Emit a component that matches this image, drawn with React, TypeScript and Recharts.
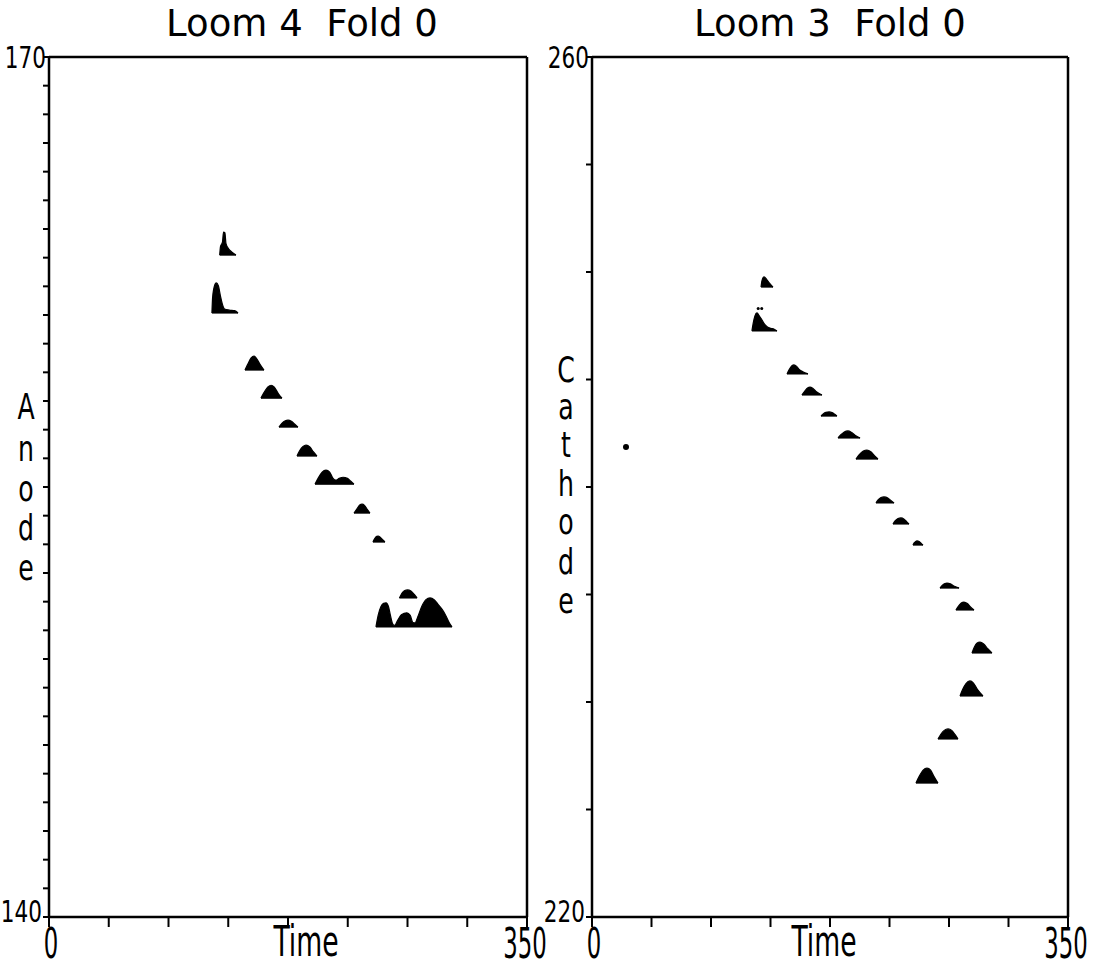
import React from 'react';
import { ComposedChart, Area, Scatter, XAxis, YAxis, ReferenceLine } from 'recharts';

const FONT = '"DejaVu Sans", "Liberation Sans", sans-serif';

// ---- text ----
const titles = ['Loom 4  Fold 0', 'Loom 3  Fold 0'];
const xLabel = 'Time';
const yLabels = ['Anode', 'Cathode'];

// ---- axes ----
const xTicks = [0, 43.75, 87.5, 131.25, 175, 218.75, 262.5, 306.25, 350];
const xTickLabels = ['0', '350'];
const anodeTicks = [140, 141, 142, 143, 144, 145, 146, 147, 148, 149, 150, 151, 152, 153, 154, 155, 156, 157, 158, 159, 160, 161, 162, 163, 164, 165, 166, 167, 168, 169, 170];
const anodeTickLabels = ['140', '170'];
const cathodeTicks = [220, 225, 230, 235, 240, 245, 250, 255, 260];
const cathodeTickLabels = ['220', '260'];

// ---- anode peaks (Loom 4): baseline and [time, height] profile ----
const anodeBases = [163.09, 161.07, 159.08, 158.1, 157.09, 156.08, 155.1, 154.09, 153.08, 150.12, 151.13];
const anodeProfiles: number[][][] = [
  [[125, 0], [125.6, 0.3], [127, 0.45], [127.8, 0.8], [128.8, 0.78], [129.6, 0.4], [131.5, 0.22], [134, 0.1], [136.9, 0]],
  [[119.3, 0], [119.8, 0.55], [121, 0.92], [122.5, 1.05], [124, 0.95], [125.5, 0.6], [127, 0.3], [128.5, 0.14], [132, 0.1], [136, 0.08], [138.4, 0]],
  [[143.5, 0], [145.5, 0.2], [148, 0.42], [150.1, 0.49], [152, 0.4], [154.5, 0.2], [157.4, 0]],
  [[155.2, 0], [157.5, 0.2], [160.5, 0.4], [162.6, 0.45], [165, 0.38], [168, 0.15], [170.6, 0]],
  [[168.4, 0], [170.5, 0.13], [173, 0.22], [175, 0.24], [177.5, 0.2], [180, 0.1], [182.3, 0]],
  [[181.6, 0], [183.5, 0.18], [186, 0.33], [188.2, 0.38], [191, 0.32], [193.5, 0.15], [196.2, 0]],
  [[194.8, 0], [197, 0.2], [200, 0.42], [202.8, 0.49], [205.5, 0.42], [208, 0.2], [210, 0.14], [212.5, 0.2], [215.3, 0.24], [218.5, 0.2], [221, 0.1], [223.3, 0]],
  [[223.3, 0], [225.5, 0.15], [227.5, 0.28], [229.2, 0.31], [231, 0.27], [233, 0.13], [235, 0]],
  [[237.2, 0], [238.5, 0.12], [240, 0.2], [241, 0.21], [242.5, 0.17], [244.5, 0.07], [246, 0]],
  [[239.4, 0], [241, 0.4], [243, 0.7], [245, 0.82], [246.8, 0.84], [248.5, 0.72], [250, 0.4], [251.5, 0.12], [253, 0.05], [255, 0.2], [258, 0.42], [262, 0.49], [264.5, 0.4], [266.5, 0.15], [268, 0.14], [270, 0.35], [273, 0.72], [276, 0.95], [279, 1.01], [282, 0.95], [285, 0.78], [288, 0.6], [290.5, 0.4], [293, 0.15], [295.1, 0]],
  [[256.6, 0], [258.5, 0.17], [260.5, 0.26], [262.5, 0.28], [265, 0.24], [267.5, 0.12], [269.5, 0]],
];

// ---- cathode peaks (Loom 3) ----
const cathodeBases = [249.3, 247.26, 245.26, 244.28, 243.3, 242.28, 241.3, 239.26, 238.28, 237.3, 235.3, 234.28, 232.28, 230.28, 228.28, 226.23];
const cathodeProfiles: number[][][] = [
  [[124.3, 0], [125, 0.3], [126.5, 0.47], [128.5, 0.35], [130.5, 0.18], [133.1, 0]],
  [[117.6, 0], [118.5, 0.35], [119.8, 0.7], [121.3, 0.84], [123, 0.7], [125, 0.5], [127, 0.3], [129, 0.18], [131.5, 0.12], [134, 0.08], [136, 0]],
  [[143.4, 0], [145, 0.2], [147, 0.38], [148.5, 0.42], [150.5, 0.35], [152.5, 0.2], [155, 0.1], [158.8, 0]],
  [[154.4, 0], [156.5, 0.18], [158.5, 0.33], [160.3, 0.37], [162.5, 0.3], [165, 0.15], [169.1, 0]],
  [[168.4, 0], [170, 0.1], [172, 0.17], [174.3, 0.19], [176.5, 0.16], [178.5, 0.08], [180.1, 0]],
  [[180.9, 0], [183, 0.15], [185.5, 0.28], [188.2, 0.33], [191, 0.25], [194, 0.1], [197.1, 0]],
  [[194.1, 0], [196.5, 0.2], [199.5, 0.37], [202.2, 0.42], [205, 0.34], [207.5, 0.17], [210.3, 0]],
  [[208.8, 0], [210.5, 0.15], [212.5, 0.25], [214.7, 0.28], [217.5, 0.23], [220, 0.1], [222.1, 0]],
  [[221.3, 0], [223, 0.15], [225, 0.25], [227.2, 0.28], [229.5, 0.22], [231.5, 0.1], [233.1, 0]],
  [[236, 0], [237, 0.11], [238, 0.17], [239, 0.19], [240.5, 0.16], [242, 0.08], [243.4, 0]],
  [[255.9, 0], [257.5, 0.12], [259.5, 0.21], [261, 0.23], [263.5, 0.2], [266.5, 0.08], [269.9, 0]],
  [[267.6, 0], [269.5, 0.18], [271.5, 0.33], [273.5, 0.37], [276, 0.3], [278.5, 0.13], [280.9, 0]],
  [[279.4, 0], [281, 0.25], [283, 0.45], [285.3, 0.51], [288, 0.42], [291, 0.2], [294.1, 0]],
  [[270.6, 0], [272.5, 0.3], [275, 0.58], [277.9, 0.7], [280.5, 0.6], [283.5, 0.3], [287.5, 0]],
  [[254.4, 0], [256.5, 0.22], [259, 0.4], [261.8, 0.47], [264.5, 0.4], [267, 0.2], [269.1, 0]],
  [[238.2, 0], [240.5, 0.3], [243.5, 0.6], [246.3, 0.7], [249, 0.6], [251.5, 0.3], [254.4, 0]],
];
const cathodeSpecks = [
  { t: 122.2, v: 248.3 },
  { t: 124.8, v: 248.3 },
];
const cathodeDot = [{ t: 25, v: 241.86 }];

const toSeries = (base: number, prof: number[][]) =>
  prof.map(([t, h]) => ({ t, r: [base, base + h] }));

const axisLine = { stroke: '#000', strokeWidth: 2.5 };
const tickLine = { stroke: '#000', strokeWidth: 2 };

const XTick = (props: any) => {
  const { x, y, payload } = props;
  const v = payload.value;
  const label = v === 0 ? xTickLabels[0] : v === 350 ? xTickLabels[1] : null;
  if (!label) return <g />;
  const dx = v === 0 ? 2 : -2;
  return (
    <g transform={`translate(${x + dx},${y + 31}) scale(0.53,1)`}>
      <text x={0} y={0} textAnchor="middle" fontSize={43} fontFamily={FONT} fill="#000">
        {label}
      </text>
    </g>
  );
};

const makeYTick = (ends: string[], lo: number, hi: number) => (props: any) => {
  const { x, y, payload } = props;
  const v = payload.value;
  const label = v === lo ? ends[0] : v === hi ? ends[1] : null;
  if (!label) return <g />;
  const dy = v === lo ? -6 : 0;
  const dx = v === lo ? -1 : 3;
  return (
    <g transform={`translate(${x + dx},${y + dy}) scale(0.72,1)`}>
      <text x={0} y={0} dy="0.36em" textAnchor="end" fontSize={30} fontFamily={FONT} fill="#000">
        {label}
      </text>
    </g>
  );
};

const Dot = (r: number) => (p: any) => <circle cx={p.cx} cy={p.cy} r={r} fill="#000" />;

const peakArea = (base: number, prof: number[][], i: number) => (
  <Area
    key={i}
    data={toSeries(base, prof)}
    dataKey="r"
    type="monotone"
    stroke="#000"
    strokeWidth={1.2}
    fill="#000"
    fillOpacity={1}
    dot={false}
    activeDot={false}
    isAnimationActive={false}
  />
);

export default function App() {
  const letterStyle = { whiteSpace: 'pre' as const };
  return (
    <div style={{ position: 'absolute', left: 0, top: 0, width: 1102, height: 968, background: '#fff' }}>
      <div style={{ position: 'absolute', left: 0, top: 0 }}>
        <ComposedChart width={560} height={968} margin={{ top: 57, right: 33, bottom: 0, left: 0 }}>
          <XAxis type="number" dataKey="t" domain={[0, 350]} ticks={xTicks} interval={0} height={51}
            tickSize={10} tickMargin={0} axisLine={axisLine} tickLine={tickLine} tick={XTick} allowDataOverflow />
          <YAxis type="number" domain={[140, 170]} ticks={anodeTicks} interval={0} width={49}
            tickSize={6} tickMargin={0} axisLine={axisLine} tickLine={tickLine}
            tick={makeYTick(anodeTickLabels, 140, 170)} allowDataOverflow />
          <ReferenceLine y={170} stroke="#000" strokeWidth={2.5} />
          <ReferenceLine x={350} stroke="#000" strokeWidth={2.5} />
          {anodeProfiles.map((p, i) => peakArea(anodeBases[i], p, i))}
        </ComposedChart>
      </div>
      <div style={{ position: 'absolute', left: 530, top: 0 }}>
        <ComposedChart width={572} height={968} margin={{ top: 57, right: 34, bottom: 0, left: 0 }}>
          <XAxis type="number" dataKey="t" domain={[0, 350]} ticks={xTicks} interval={0} height={51}
            tickSize={10} tickMargin={0} axisLine={axisLine} tickLine={tickLine} tick={XTick} allowDataOverflow />
          <YAxis type="number" domain={[220, 260]} ticks={cathodeTicks} interval={0} width={62}
            tickSize={6} tickMargin={0} axisLine={axisLine} tickLine={tickLine}
            tick={makeYTick(cathodeTickLabels, 220, 260)} allowDataOverflow />
          <ReferenceLine y={260} stroke="#000" strokeWidth={2.5} />
          <ReferenceLine x={350} stroke="#000" strokeWidth={2.5} />
          {cathodeProfiles.map((p, i) => peakArea(cathodeBases[i], p, i))}
          <Scatter data={cathodeSpecks} dataKey="v" shape={Dot(1.5)} isAnimationActive={false} />
          <Scatter data={cathodeDot} dataKey="v" shape={Dot(3)} isAnimationActive={false} />
        </ComposedChart>
      </div>
      <svg width={1102} height={968} style={{ position: 'absolute', left: 0, top: 0, pointerEvents: 'none' }}>
        <g fontFamily={FONT} fill="#000">
          <text x={302} y={36} textAnchor="middle" fontSize={37} style={letterStyle}>{titles[0]}</text>
          <text x={830} y={36} textAnchor="middle" fontSize={37} style={letterStyle}>{titles[1]}</text>
          <g transform="translate(306,956) scale(0.62,1)">
            <text x={0} y={0} textAnchor="middle" fontSize={43}>{xLabel}</text>
          </g>
          <g transform="translate(824,956) scale(0.62,1)">
            <text x={0} y={0} textAnchor="middle" fontSize={43}>{xLabel}</text>
          </g>
          {yLabels[0].split('').map((ch, i) => (
            <g key={'a' + i} transform={`translate(26,${[419, 461, 501, 540, 580][i]}) scale(0.72,1)`}>
              <text x={0} y={0} textAnchor="middle" fontSize={35}>{ch}</text>
            </g>
          ))}
          {yLabels[1].split('').map((ch, i) => (
            <g key={'c' + i} transform={`translate(566,${[382, 419, 457, 496, 534, 574, 613][i]}) scale(0.72,1)`}>
              <text x={0} y={0} textAnchor="middle" fontSize={35}>{ch}</text>
            </g>
          ))}
        </g>
      </svg>
    </div>
  );
}
